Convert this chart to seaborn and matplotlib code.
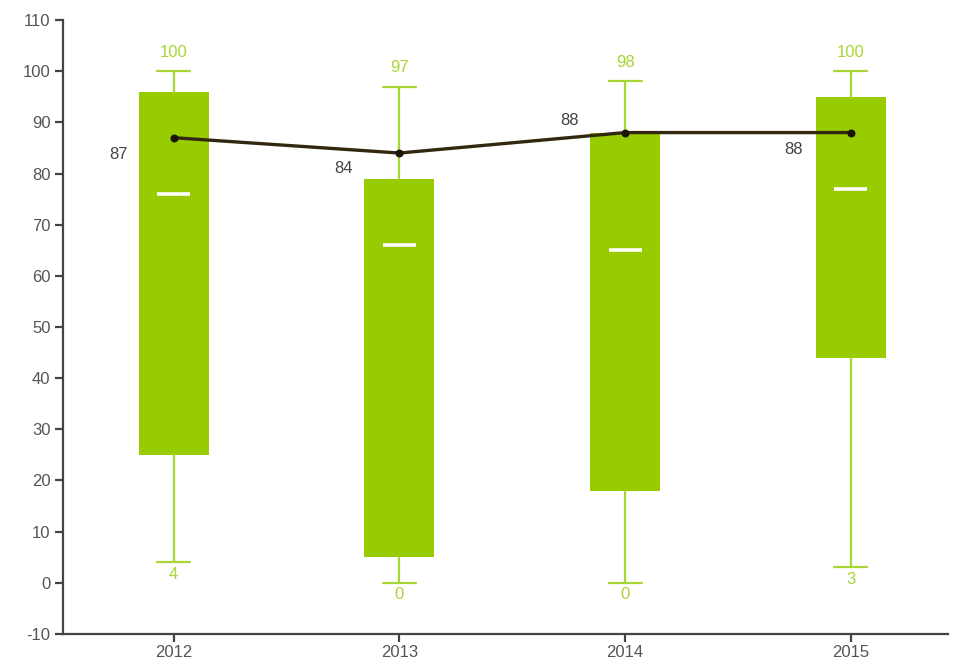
import matplotlib
matplotlib.use('Agg')
import matplotlib.pyplot as plt
import seaborn as sns
import pandas as pd

years = ['2012', '2013', '2014', '2015']
whisker_low = [4, 0, 0, 3]
box_low = [25, 5, 18, 44]
medians = [76, 66, 65, 77]
box_high = [96, 79, 88, 95]
whisker_high = [100, 97, 98, 100]
line_values = [87, 84, 88, 88]

sns.set_theme(style='ticks')
plt.rcParams['font.family'] = ['Liberation Sans', 'DejaVu Sans']
plt.rcParams['axes.unicode_minus'] = False

green = '#99cc00'
light_green = '#a8d635'
tick_gray = '#555555'

fig = plt.figure(figsize=(9.56, 6.67), dpi=100)
ax = fig.add_axes([0.0659, 0.0495, 0.9257, 0.9205])

stats = []
for i, y in enumerate(years):
    stats.append({'label': y, 'whislo': whisker_low[i], 'q1': box_low[i], 'med': medians[i],
                  'q3': box_high[i], 'whishi': whisker_high[i], 'fliers': []})
pos = list(range(len(years)))
ax.bxp(stats, positions=pos, widths=0.31, capwidths=0.146, patch_artist=True,
       showfliers=False,
       boxprops=dict(facecolor=green, edgecolor=green, linewidth=0),
       whiskerprops=dict(color=light_green, linewidth=1.6),
       capprops=dict(color=light_green, linewidth=1.6),
       medianprops=dict(color=green, linewidth=0))
# white median ticks, shorter than the box
ax.hlines(medians, [p - 0.073 for p in pos], [p + 0.073 for p in pos], color='white', linewidth=2.6, zorder=4)

for i in pos:
    ax.annotate(str(whisker_high[i]), (i, whisker_high[i]), xytext=(0, 8), textcoords='offset points',
                ha='center', va='bottom', color=light_green, fontsize=12)
    ax.annotate(str(whisker_low[i]), (i, whisker_low[i]), xytext=(0, -3), textcoords='offset points',
                ha='center', va='top', color=light_green, fontsize=12)

df = pd.DataFrame({'x': pos, 'y': line_values})
sns.lineplot(data=df, x='x', y='y', ax=ax, color='#33280f', linewidth=2.4, marker='o',
             markersize=5, markeredgecolor='#1a1408', markerfacecolor='#1a1408', zorder=5)

label_offsets = [(-40, -12), (-40, -11), (-40, 9), (-41, -12)]
for i in pos:
    ax.annotate(str(line_values[i]), (i, line_values[i]), xytext=label_offsets[i], textcoords='offset points',
                ha='center', va='center', color='#444444', fontsize=12)

ax.set_xlim(-0.49, 3.43)
ax.set_ylim(-10, 110)
ax.set_yticks(range(-10, 111, 10))
ax.set_xticks(pos)
ax.set_xticklabels(years)
ax.set_xlabel('')
ax.set_ylabel('')
for s in ['top', 'right']:
    ax.spines[s].set_visible(False)
for s in ['left', 'bottom']:
    ax.spines[s].set_color('#444444')
    ax.spines[s].set_linewidth(1.6)
ax.tick_params(axis='both', colors='#444444', labelcolor=tick_gray, labelsize=12, length=6, width=1.6)
ax.tick_params(axis='y', pad=3)
ax.tick_params(axis='x', pad=2)
ax.grid(False)

fig.savefig('out.png', dpi=100)
